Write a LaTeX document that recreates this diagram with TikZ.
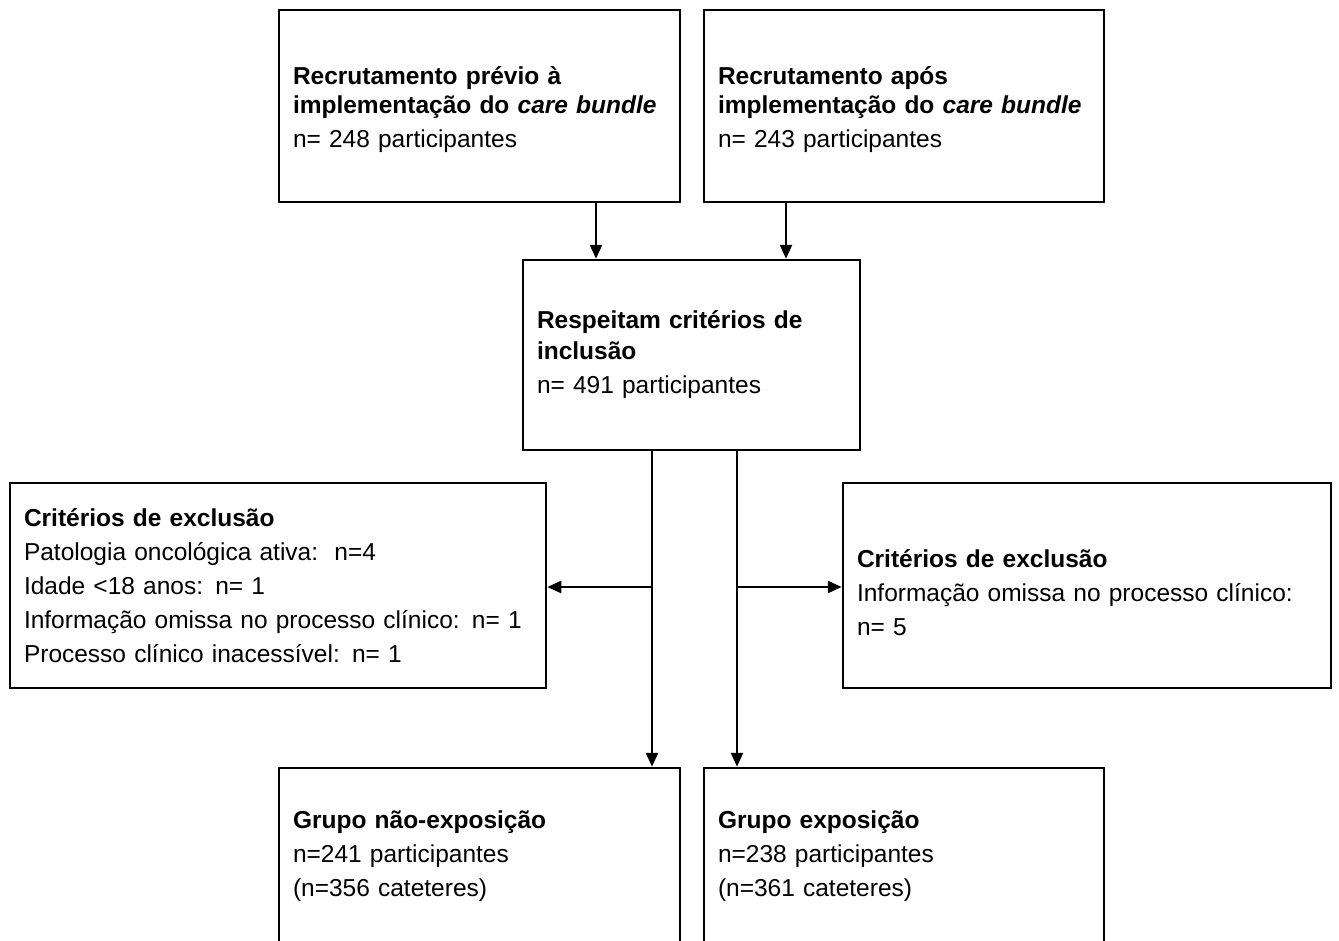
\documentclass[tikz,border=0pt]{standalone}
\usepackage{fontspec}
\setmainfont{Liberation Sans}
\usetikzlibrary{arrows.meta}
\begin{document}
\begin{tikzpicture}[x=1pt,y=-1pt,
  box/.style={draw, line width=2.5pt, align=left, inner xsep=14pt, inner ysep=0pt,
    font=\fontsize{24.5}{34}\selectfont},
  arr/.style={line width=2.5pt, -{Triangle[length=14pt,width=12pt]}},
  link/.style={line width=2.5pt}]
\path[use as bounding box] (0,0) rectangle (1339,940);
\clip (0,0) rectangle (1339,940);
\fill[white] (0,0) rectangle (1339,940);

\node[box, text width=373pt, minimum width=401pt, minimum height=192pt] (tl) at (479.5,106)
  {\rule{0pt}{26pt}\textbf{Recrutamento prévio à}\\[-5pt]\textbf{implementação do \textit{care bundle}}\\n= 248 participantes};
\node[box, text width=372pt, minimum width=400pt, minimum height=192pt] (tr) at (904,106)
  {\rule{0pt}{26pt}\textbf{Recrutamento após}\\[-5pt]\textbf{implementação do \textit{care bundle}}\\n= 243 participantes};
\node[box, text width=309pt, minimum width=337pt, minimum height=190pt] (mid) at (691.5,355)
  {\textbf{Respeitam critérios de}\\[-3pt]\textbf{inclusão}\\n= 491 participantes};
\node[box, text width=508pt, minimum width=536pt, minimum height=205pt] (exL) at (278,585.5)
  {\textbf{Critérios de exclusão}\\Patologia oncológica ativa:\ \ n=4\\Idade <18 anos: n= 1\\Informação omissa no processo clínico: n= 1\\Processo clínico inacessível: n= 1};
\node[box, text width=460pt, minimum width=488pt, minimum height=205pt] (exR) at (1087,585.5)
  {\rule{0pt}{33pt}\textbf{Critérios de exclusão}\\Informação omissa no processo clínico:\\n= 5};
\node[box, text width=373pt, minimum width=401pt, minimum height=176pt] (bl) at (479.5,856)
  {\textbf{Grupo não-exposição}\\n=241 participantes\\(n=356 cateteres)};
\node[box, text width=372pt, minimum width=400pt, minimum height=176pt] (br) at (904,856)
  {\textbf{Grupo exposição}\\n=238 participantes\\(n=361 cateteres)};

\coordinate (c1) at (596,0);
\coordinate (c2) at (786,0);
\coordinate (c3) at (652,0);
\coordinate (c4) at (737,0);
\coordinate (yb) at (0,587);

\draw[arr] (tl.south -| c1) -- (mid.north -| c1);
\draw[arr] (tr.south -| c2) -- (mid.north -| c2);
\draw[arr] (mid.south -| c3) -- (bl.north -| c3);
\draw[arr] (mid.south -| c4) -- (br.north -| c4);
\draw[arr] (yb -| c3) -- (yb -| exL.east);
\draw[arr] (yb -| c4) -- (yb -| exR.west);
\end{tikzpicture}
\end{document}
